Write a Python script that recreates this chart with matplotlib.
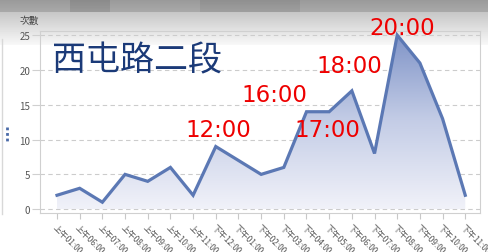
import matplotlib.pyplot as plt
import numpy as np
from matplotlib.colors import LinearSegmentedColormap

plt.rcParams['font.family'] = ['Noto Sans CJK TC', 'DejaVu Sans']

# data
hours = ['上午01:00', '上午06:00', '上午07:00', '上午08:00', '上午09:00', '上午10:00',
         '上午11:00', '下午12:00', '下午01:00', '下午02:00', '下午03:00', '下午04:00',
         '下午05:00', '下午06:00', '下午07:00', '下午08:00', '下午09:00', '下午10:00',
         '下午11:00']
counts = [2, 3, 1, 5, 4, 6, 2, 9, 7, 5, 6, 14, 14, 17, 8, 25, 21, 13, 2]
peak_labels = ['12:00', '16:00', '17:00', '18:00', '20:00']
peak_pos = [(7.1, 11.5), (9.6, 16.5), (11.9, 11.5), (12.9, 20.6), (15.2, 26.1)]

W, H = 488, 253
fig = plt.figure(figsize=(W / 100, H / 100), dpi=100)

# gray screenshot band at the top
bg = fig.add_axes([0, 0, 1, 1], zorder=-5)
rows = np.ones(H)
rows[:13] = np.linspace(0.60, 0.66, 13)
rows[13:46] = np.linspace(0.78, 0.97, 33)
img = np.repeat(rows[:, None], W, axis=1)
img[:13, 70:110] -= 0.06
img[:13, 200:300] -= 0.04
bg.imshow(img, cmap='gray', vmin=0, vmax=1, aspect='auto', extent=[0, W, H, 0])
bg.plot([1.5, 1.5], [40, 215], color='#d8d8d8', lw=1)
bg.plot([7, 7], [128, 144], color='#4a6aa8', lw=2, ls=(0, (1, 1)))
bg.set_xlim(0, W)
bg.set_ylim(H, 0)
bg.axis('off')

ax = fig.add_axes([40 / W, 1 - 214 / H, 440 / W, 182 / H])
ax.set_facecolor('none')
x = np.arange(len(counts))

# gradient fill under the line
cmap = LinearSegmentedColormap.from_list('fillgrad', ['#f1f2f9', '#c3cce6', '#7c91c6'])
poly = ax.fill_between(x, counts, 0, color='none')
grad = ax.imshow(np.linspace(1, 0, 256)[:, None], cmap=cmap, aspect='auto',
                 extent=[x[0], x[-1], 0, 25.6], zorder=1)
grad.set_clip_path(poly.get_paths()[0], transform=ax.transData)
ax.plot(x, counts, color='#5b78b4', lw=2.3, zorder=3, solid_joinstyle='miter')

ax.set_xlim(-0.75, len(counts) - 0.35)
ax.set_ylim(-0.55, 25.6)
ax.set_yticks([0, 5, 10, 15, 20, 25])
ax.yaxis.grid(True, color='#cccccc', ls=(0, (4, 3)), lw=0.8)
ax.set_axisbelow(True)
ax.set_xticks(x)
ax.set_xticklabels(hours, rotation=-45, ha='left', rotation_mode='anchor',
                   fontsize=6, color='#555555')
ax.tick_params(axis='x', length=4, color='#c8c8c8', pad=3)
ax.tick_params(axis='y', length=6, color='#d0d0d0', labelsize=7, labelcolor='#555555', pad=1)
for s in ax.spines.values():
    s.set_color('#d0d0d0')
    s.set_linewidth(0.8)

fig.text(20 / W, 1 - 21 / H, '次數', fontsize=7, color='#444444', va='center')
ax.text(-0.2, 21.5, '西屯路二段', fontsize=24.5, color='#1b3a78', va='center', ha='left', zorder=5)
for lab, (px, py) in zip(peak_labels, peak_pos):
    ax.text(px, py, lab, fontsize=16.5, color='#ee0000', ha='center', va='center',
            family=['DejaVu Sans'], zorder=5)

fig.savefig('out.png', dpi=100)
